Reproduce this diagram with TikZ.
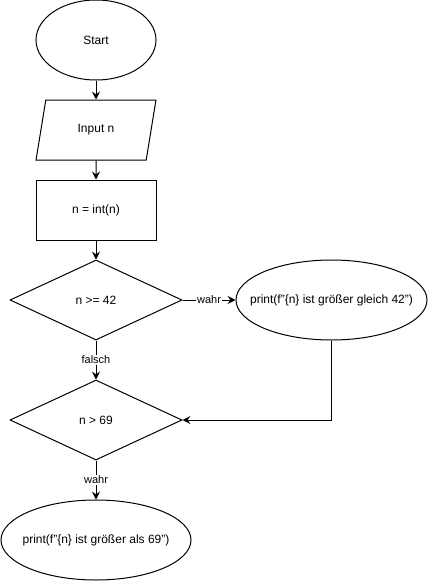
\documentclass[tikz,border=0pt]{standalone}
\usepackage{fontspec}
\setmainfont{Liberation Sans}
\usetikzlibrary{shapes.geometric, arrows.meta}

\begin{document}
\begin{tikzpicture}[x=1pt, y=-1pt, line width=1pt, font=\fontsize{12}{14}\selectfont,
		terminal/.style={draw, ellipse, minimum width=120pt, minimum height=80pt, inner xsep=-20pt, inner ysep=0pt},
		io/.style={draw, trapezium, trapezium left angle=71.6, trapezium right angle=108.4, trapezium stretches=true, minimum width=120pt, minimum height=60pt, inner sep=0pt},
		process/.style={draw, rectangle, minimum width=120pt, minimum height=60pt, inner sep=0pt},
		decision/.style={draw, diamond, minimum width=172pt, minimum height=80pt, inner sep=0pt},
		flow/.style={-{Stealth[length=8pt, width=8pt, inset=3pt]}},
		edgelabel/.style={fill=white, inner sep=1pt, font=\fontsize{11}{13}\selectfont}]
		\useasboundingbox (0,0) rectangle (428,581);
		% nodes
		\node[terminal] (start) at (96,40) {Start};
		\node[io] (input) at (96,130) {Input n};
		\node[process] (convert) at (96,210) {n = int(n)};
		\node[decision] (ge42) at (96,300) {n >= 42};
		\node[terminal, minimum width=191pt] (print42) at (331.5,300) {print(f"\{n\} ist größer gleich 42")};
		\node[decision] (gt69) at (96,420) {n > 69};
		\node[terminal, minimum width=190pt] (print69) at (96,540) {print(f"\{n\} ist größer als 69")};
		% connectors
		\draw[flow] (start) -- (input);
		\draw[flow] (input) -- (convert);
		\draw[flow] (convert) -- (ge42);
		\draw[flow] (ge42.east) -- node[edgelabel]{wahr} (print42.west);
		\draw[flow] (ge42.south) -- node[edgelabel]{falsch} (gt69.north);
		\draw[flow] (print42.south) -- (print42.south |- gt69.east) -- (gt69.east);
		\draw[flow] (gt69.south) -- node[edgelabel]{wahr} (print69.north);
	\end{tikzpicture}
\end{document}
